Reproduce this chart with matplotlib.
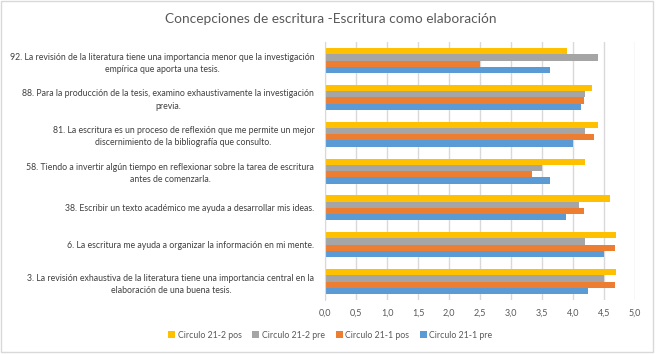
import matplotlib
matplotlib.use("Agg")
import matplotlib.pyplot as plt
from matplotlib.patches import Rectangle
import numpy as np

plt.rcParams['font.family'] = ['Lato', 'DejaVu Sans']

# categories, bottom to top (as Excel draws them)
categories = [
    "3. La revisión exhaustiva de la literatura tiene una importancia central en la\nelaboración de una buena tesis.",
    "6. La escritura me ayuda a organizar la información en mi mente.",
    "38. Escribir un texto académico me ayuda a desarrollar mis ideas.",
    "58. Tiendo a invertir algún tiempo en reflexionar sobre la tarea de escritura\nantes de comenzarla.",
    "81. La escritura es un proceso de reflexión que me permite un mejor\ndiscernimiento de la bibliografía que consulto.",
    "88. Para la producción de la tesis, examino exhaustivamente la investigación\nprevia.",
    "92. La revisión de la literatura tiene una importancia menor que la investigación\nempírica que aporta una tesis.",
]

c211_pre = [4.24, 4.50, 3.88, 3.62, 4.00, 4.12, 3.62]
c211_pos = [4.67, 4.67, 4.17, 3.33, 4.33, 4.17, 2.50]
c212_pre = [4.50, 4.20, 4.10, 3.50, 4.20, 4.20, 4.40]
c212_pos = [4.70, 4.70, 4.60, 4.20, 4.40, 4.30, 3.90]

series = [
    ("Circulo 21-1 pre", c211_pre, "#5b9bd5"),
    ("Circulo 21-1 pos", c211_pos, "#ed7d31"),
    ("Circulo 21-2 pre", c212_pre, "#a5a5a5"),
    ("Circulo 21-2 pos", c212_pos, "#ffc000"),
]

fig = plt.figure(figsize=(6.57, 3.54), dpi=100)
fig.patches.append(Rectangle((0.002, 0.006), 0.992, 0.99, transform=fig.transFigure,
                             fill=False, edgecolor="#d9d9d9", linewidth=1.0))

ax = fig.add_axes([0.4954, 0.1525, 0.4711, 0.7285])

y = np.arange(len(categories))
h = 0.17
handles = []
for i, (name, vals, col) in enumerate(series):
    b = ax.barh(y + (i - 1.5) * h, vals, height=h, color=col, label=name, zorder=2)
    handles.append(b)

ax.set_xlim(0, 5)
ax.set_ylim(-0.5, len(categories) - 0.5)
ax.set_xticks(np.arange(0, 5.01, 0.5))
ax.set_xticklabels([f"{v:.1f}".replace(".", ",") for v in np.arange(0, 5.01, 0.5)],
                   fontsize=6.5, color="#595959")
ax.set_yticks(y)
ax.set_yticklabels(categories, fontsize=6.35, color="#404040", multialignment="center",
                   linespacing=1.45)
ax.tick_params(length=0, pad=6)
ax.tick_params(axis='y', pad=8)
ax.grid(axis='x', color="#d9d9d9", linewidth=1.0, zorder=0)
for s in ["top", "right", "bottom"]:
    ax.spines[s].set_visible(False)
ax.spines["left"].set_color("#d9d9d9")

fig.text(0.503, 0.945, "Concepciones de escritura -Escritura como elaboración",
         ha="center", va="center", fontsize=9.8, color="#595959")

fig.legend(handles[::-1], [s[0] for s in series][::-1], loc="center",
           bbox_to_anchor=(0.503, 0.053), ncol=4, frameon=False, fontsize=6.3,
           handlelength=0.8, handleheight=0.8, handletextpad=0.3, columnspacing=1.2,
           labelcolor="#595959")

fig.savefig("out.png", dpi=100)
